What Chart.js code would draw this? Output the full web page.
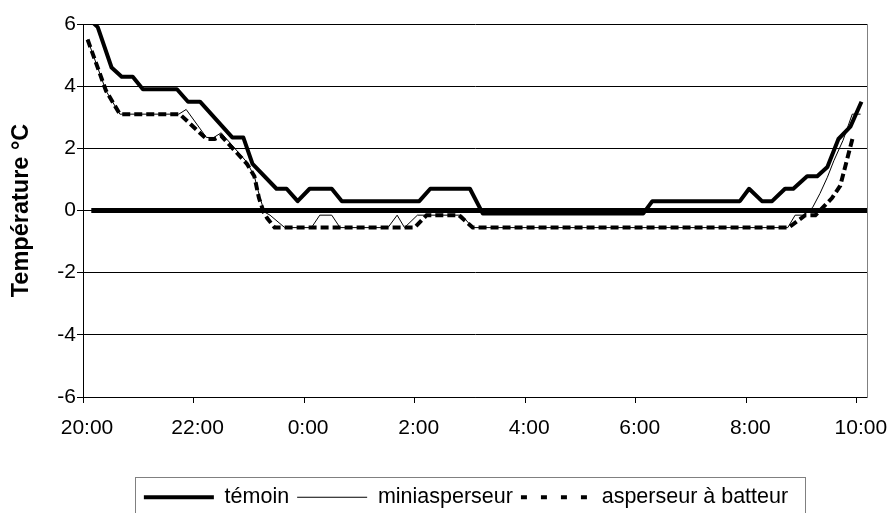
<!DOCTYPE html>
<html lang="fr">
<head>
    <meta charset="UTF-8">
    <title>Température</title>
    <script src="https://cdn.jsdelivr.net/npm/chart.js"></script>
    <style>
        html, body { margin: 0; padding: 0; background: #fff; }
        canvas { display: block; }
    </style>
</head>
<body>
<canvas id="tempChart" width="890" height="513"></canvas>

<script>
    // Relevés (heure, °C)
    const temoinTimes = ['20:05', '20:16', '20:31', '20:42', '20:54', '21:05', '21:42', '21:54', '22:07', '22:42', '22:54', '23:04', '23:30', '23:41', '23:53', '0:06', '0:30', '0:41', '2:05', '2:17', '2:53', '3:00', '3:14', '6:08', '6:18', '7:53', '8:03', '8:17', '8:28', '8:42', '8:51', '9:06', '9:17', '9:28', '9:40', '9:53', '10:05'];
    const temoinValues = [6.2, 5.9, 4.6, 4.3, 4.3, 3.9, 3.9, 3.5, 3.5, 2.35, 2.35, 1.5, 0.7, 0.7, 0.3, 0.7, 0.7, 0.3, 0.3, 0.7, 0.7, 0.7, -0.1, -0.1, 0.3, 0.3, 0.7, 0.3, 0.3, 0.7, 0.7, 1.1, 1.1, 1.4, 2.3, 2.7, 3.5];

    const miniTimes = ['20:05', '20:25', '20:40', '21:44', '21:52', '22:14', '22:22', '22:30', '22:58', '23:06', '23:12', '23:17', '23:23', '23:39', '0:08', '0:17', '0:30', '0:39', '1:31', '1:41', '1:49', '2:03', '2:51', '3:03', '8:45', '8:53', '9:02', '9:12', '9:20', '9:28', '9:35', '9:45', '9:55', '10:04'];
    const miniValues = [5.5, 3.85, 3.1, 3.1, 3.25, 2.35, 2.35, 2.5, 1.55, 1.1, 0.42, -0.05, -0.15, -0.55, -0.55, -0.15, -0.15, -0.55, -0.55, -0.15, -0.55, -0.15, -0.15, -0.55, -0.55, -0.15, -0.15, 0.1, 0.55, 1.07, 1.6, 2.26, 3.1, 3.1];

    const batteurTimes = ['20:05', '20:25', '20:40', '21:45', '22:14', '22:23', '22:30', '22:58', '23:06', '23:11', '23:16', '23:20', '23:28', '2:00', '2:13', '2:48', '3:03', '8:46', '9:04', '9:15', '9:33', '9:42', '9:49', '9:56'];
    const batteurValues = [5.5, 3.85, 3.1, 3.1, 2.3, 2.3, 2.4, 1.5, 1.1, 0.4, -0.05, -0.25, -0.55, -0.55, -0.15, -0.15, -0.55, -0.55, -0.15, -0.15, 0.4, 0.8, 1.6, 2.4];

    const zeroTimes = ['20:09', '10:11'];
    const zeroValues = [0, 0];

    const seriesNames = ['témoin', 'miniasperseur', 'asperseur à batteur'];
    const xTickLabels = ['20:00', '22:00', '0:00', '2:00', '4:00', '6:00', '8:00', '10:00'];
    const yTicks = [-6, -4, -2, 0, 2, 4, 6];

    // minutes since 20:00
    function toMin(t) {
        const [h, m] = t.split(':').map(Number);
        return ((h - 20 + 24) % 24) * 60 + m;
    }
    function points(times, values) {
        return times.map((t, i) => ({x: toMin(t), y: values[i]}));
    }

    Chart.defaults.font.family = '"Liberation Sans", Arial, sans-serif';
    Chart.defaults.color = '#000';

    const legendLine = [4, 1, 4];
    const legendDash = [[], [], [6, 14]];

    // box round the legend
    const legendFrame = {
        id: 'legendFrame',
        afterDraw(chart) {
            const boxes = chart.legend.legendHitBoxes;
            if (!boxes || !boxes.length) return;
            const first = boxes[0], last = boxes[boxes.length - 1];
            const cy = first.top + first.height / 2;
            const ctx = chart.ctx;
            ctx.save();
            ctx.strokeStyle = '#808080';
            ctx.lineWidth = 1;
            const l = Math.round(first.left - 9) + 0.5;
            const r = Math.round(last.left + last.width + 17) + 0.5;
            const t = Math.round(cy - 20) + 0.5;
            ctx.strokeRect(l, t, r - l, 60);
            ctx.restore();
        }
    };

    new Chart(document.getElementById('tempChart'), {
        type: 'line',
        data: {
            datasets: [
                {label: seriesNames[0], data: points(temoinTimes, temoinValues), borderColor: '#000', borderWidth: 4, borderJoinStyle: 'round'},
                {label: seriesNames[1], data: points(miniTimes, miniValues), borderColor: '#000', borderWidth: 1},
                {label: seriesNames[2], data: points(batteurTimes, batteurValues), borderColor: '#000', borderWidth: 4, borderDash: [8, 4]},
                {label: 'zero', data: points(zeroTimes, zeroValues), borderColor: '#000', borderWidth: 5}
            ]
        },
        options: {
            responsive: false,
            animation: false,
            devicePixelRatio: 1,
            layout: {padding: {left: 43, right: 1, top: 24, bottom: -5}},
            elements: {point: {radius: 0}, line: {tension: 0}},
            plugins: {
                tooltip: {enabled: false},
                legend: {
                    position: 'bottom',
                    labels: {
                        usePointStyle: true,
                        pointStyleWidth: 70,
                        padding: 8,
                        font: {size: 21.5},
                        generateLabels: chart => seriesNames.map((name, i) => ({
                            text: name,
                            fillStyle: '#000',
                            strokeStyle: '#000',
                            lineWidth: legendLine[i],
                            lineDash: legendDash[i],
                            pointStyle: 'line',
                            hidden: false,
                            datasetIndex: i
                        }))
                    }
                }
            },
            scales: {
                x: {
                    type: 'linear',
                    min: 0,
                    max: 851,
                    afterFit: s => { s.height = 81.5; s.paddingLeft = 0; s.paddingRight = 0; },
                    afterBuildTicks: s => { s.ticks = xTickLabels.map((_, i) => ({value: i * 120})); },
                    border: {color: '#000', width: 1},
                    grid: {drawOnChartArea: false, drawTicks: true, tickLength: 6, color: '#000'},
                    ticks: {
                        maxRotation: 0,
                        autoSkip: false,
                        padding: 13,
                        labelOffset: 4,
                        font: {size: 21},
                        callback: (v, i) => xTickLabels[i]
                    }
                },
                y: {
                    min: yTicks[0],
                    max: yTicks[yTicks.length - 1],
                    afterFit: s => { s.width = 40; },
                    border: {color: '#000', width: 1},
                    grid: {color: '#000', lineWidth: 1, tickLength: 6},
                    ticks: {stepSize: 2, padding: 1, font: {size: 21}},
                    title: {
                        display: true,
                        text: 'Température °C',
                        font: {size: 23.5, weight: 'bold'},
                        padding: {top: -36, bottom: 0}
                    }
                },
                // right edge of the plot area
                yRight: {
                    position: 'right',
                    afterFit: s => { s.width = 22; },
                    border: {color: '#808080', width: 1},
                    grid: {drawOnChartArea: false, drawTicks: false},
                    ticks: {display: false}
                }
            }
        },
        plugins: [legendFrame]
    });
</script>
</body>
</html>
